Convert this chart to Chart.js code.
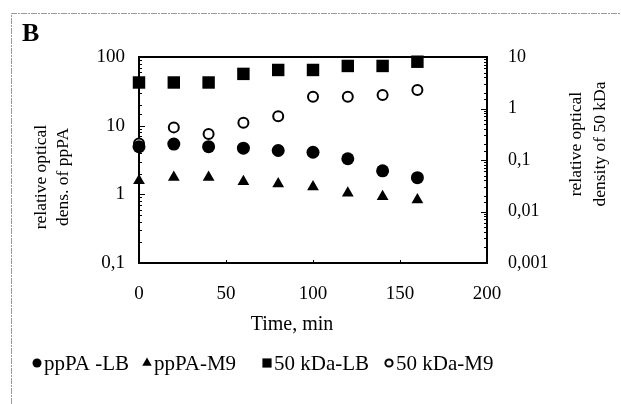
<!DOCTYPE html>
<html><head><meta charset="utf-8">
<script src="https://cdn.jsdelivr.net/npm/chart.js@4/dist/chart.umd.min.js"></script>
<style>html,body{margin:0;padding:0;background:#fff}#wrap{width:621px;height:404px;position:relative}</style>
</head><body><div id="wrap"><canvas id="c" width="621" height="404"></canvas></div>
<script>
// ---- data ----
const times = [0, 20, 40, 60, 80, 100, 120, 140, 160];
const ppPA_LB = [4.95, 5.4, 4.95, 4.7, 4.35, 4.1, 3.3, 2.2, 1.75];
const ppPA_M9 = [1.58, 1.77, 1.77, 1.53, 1.42, 1.29, 1.04, 0.93, 0.83];
const kDa50_LB = [3.2, 3.2, 3.2, 4.7, 5.6, 5.6, 6.7, 6.7, 8.1];
const kDa50_M9 = [0.21, 0.43, 0.32, 0.53, 0.71, 1.69, 1.69, 1.83, 2.28];
const xTickValues = [0, 50, 100, 150, 200];
const leftTickValues = [0.1, 1, 10, 100];
const rightTickValues = [0.001, 0.01, 0.1, 1, 10];
const seriesNames = ['ppPA -LB', 'ppPA-M9', '50 kDa-LB', '50 kDa-M9'];
const panelLabel = 'B';
const xTitle = 'Time, min';
const leftTitle = ['relative optical', 'dens. of ppPA'];
const rightTitle = ['relative optical', 'density of 50 kDa'];

const SERIF = "'Liberation Serif', 'DejaVu Serif', serif";
const pts = arr => times.map((t, i) => ({x: t, y: arr[i]}));
const fmt = v => String(v).replace('.', ',');
const isIn = (v, list) => list.some(t => Math.abs(Math.log10(v) - Math.log10(t)) < 1e-6);

const decor = {
  id: 'decor',
  beforeDraw(chart) {
    const ctx = chart.ctx;
    ctx.save();
    ctx.fillStyle = '#fff';
    ctx.fillRect(0, 0, chart.width, chart.height);
    ctx.strokeStyle = '#9a9a9a';
    ctx.lineWidth = 1;
    ctx.setLineDash([6, 1, 2, 1]);
    ctx.beginPath();
    ctx.moveTo(11.5, 404); ctx.lineTo(11.5, 13.5); ctx.lineTo(621, 13.5);
    ctx.stroke();
    ctx.restore();
  },
  beforeDatasetsDraw(chart) {
    const ctx = chart.ctx, a = chart.chartArea;
    ctx.save();
    ctx.strokeStyle = '#000';
    ctx.lineWidth = 2;
    ctx.strokeRect(a.left, a.top, a.right - a.left, a.bottom - a.top);
    ctx.lineWidth = 1;
    const yl = chart.scales.y, yr = chart.scales.y2, xs = chart.scales.x;
    yl.ticks.forEach(t => {
      const y = Math.round(yl.getPixelForValue(t.value)) + 0.5;
      const len = isIn(t.value, leftTickValues) ? 6 : 3;
      ctx.beginPath(); ctx.moveTo(a.left, y); ctx.lineTo(a.left + len, y); ctx.stroke();
    });
    yr.ticks.forEach(t => {
      const y = Math.round(yr.getPixelForValue(t.value)) + 0.5;
      const len = isIn(t.value, rightTickValues) ? 6 : 3;
      ctx.beginPath(); ctx.moveTo(a.right, y); ctx.lineTo(a.right - len, y); ctx.stroke();
    });
    xs.ticks.forEach(t => {
      const x = Math.round(xs.getPixelForValue(t.value)) + 0.5;
      ctx.beginPath(); ctx.moveTo(x, a.bottom); ctx.lineTo(x, a.bottom - 3); ctx.stroke();
    });
    ctx.restore();
  },
  afterDraw(chart) {
    const ctx = chart.ctx;
    ctx.save();
    ctx.fillStyle = '#000';
    ctx.font = 'bold 26px ' + SERIF;
    ctx.textAlign = 'left'; ctx.textBaseline = 'alphabetic';
    ctx.fillText(panelLabel, 22, 41);
    ctx.font = '20px ' + SERIF;
    ctx.textAlign = 'center'; ctx.textBaseline = 'middle';
    ctx.fillText(xTitle, 292, 325);
    ctx.font = '17.5px ' + SERIF;
    const vtext = (lines, xs, cy) => {
      lines.forEach((s, i) => {
        ctx.save();
        ctx.translate(xs[i], cy);
        ctx.rotate(-Math.PI / 2);
        ctx.fillText(s, 0, 0);
        ctx.restore();
      });
    };
    vtext(leftTitle, [41, 63], 177);
    vtext(rightTitle, [576, 600], 144);
    const lx = [37, 147, 267, 389];
    const ly = 363;
    ctx.font = '21px ' + SERIF;
    ctx.textAlign = 'left'; ctx.textBaseline = 'middle';
    chart.data.datasets.forEach((ds, i) => {
      const opts = {pointStyle: ds.pointStyle, radius: ds.legendRadius, borderWidth: ds.pointBorderWidth};
      ctx.save();
      ctx.fillStyle = ds.pointBackgroundColor;
      ctx.strokeStyle = ds.pointBorderColor;
      ctx.lineWidth = ds.pointBorderWidth;
      Chart.helpers.drawPoint(ctx, opts, lx[i], ly);
      ctx.restore();
      ctx.fillText(seriesNames[i], lx[i] + 7, ly + 1);
    });
    ctx.restore();
  }
};

const common = {showLine: false, clip: false, pointBorderColor: '#000'};
new Chart(document.getElementById('c'), {
  type: 'scatter',
  data: {
    datasets: [
      Object.assign({label: seriesNames[0], data: pts(ppPA_LB), yAxisID: 'y',
        pointStyle: 'circle', pointRadius: 6.5, pointBackgroundColor: '#000', pointBorderWidth: 0, legendRadius: 4.5}, common),
      Object.assign({label: seriesNames[1], data: pts(ppPA_M9), yAxisID: 'y',
        pointStyle: 'triangle', pointRadius: 6.8, pointBackgroundColor: '#000', pointBorderWidth: 0, legendRadius: 5.5}, common),
      Object.assign({label: seriesNames[2], data: pts(kDa50_LB), yAxisID: 'y2',
        pointStyle: 'rect', pointRadius: 8.8, pointBackgroundColor: '#000', pointBorderWidth: 0, legendRadius: 6.5}, common),
      Object.assign({label: seriesNames[3], data: pts(kDa50_M9), yAxisID: 'y2',
        pointStyle: 'circle', pointRadius: 5, pointBackgroundColor: '#fff', pointBorderWidth: 2, legendRadius: 3.6}, common)
    ]
  },
  options: {
    responsive: false,
    animation: false,
    events: [],
    layout: {padding: {top: 57, left: 0, right: 0, bottom: 0}},
    plugins: {legend: {display: false}, tooltip: {enabled: false}},
    scales: {
      x: {
        type: 'linear', min: 0, max: 200,
        afterFit(s) { s.height = 141; },
        afterBuildTicks(s) { s.ticks = xTickValues.map(v => ({value: v})); },
        grid: {display: false, drawTicks: false}, border: {display: false},
        ticks: {color: '#000', font: {family: SERIF, size: 19}, padding: 20, maxRotation: 0,
          callback: v => fmt(v)}
      },
      y: {
        type: 'logarithmic', position: 'left', min: 0.1, max: 100,
        afterFit(s) { s.width = 139; },
        grid: {display: false, drawTicks: false}, border: {display: false},
        ticks: {color: '#000', font: {family: SERIF, size: 19}, padding: 14, autoSkip: false,
          callback: v => isIn(v, leftTickValues) ? fmt(v) : ''}
      },
      y2: {
        type: 'logarithmic', position: 'right', min: 0.001, max: 10,
        afterFit(s) { s.width = 134; },
        grid: {display: false, drawTicks: false}, border: {display: false},
        ticks: {color: '#000', font: {family: SERIF, size: 18}, padding: 21, autoSkip: false,
          callback: v => isIn(v, rightTickValues) ? fmt(v) : ''}
      }
    }
  },
  plugins: [decor]
});
</script>
</body></html>
